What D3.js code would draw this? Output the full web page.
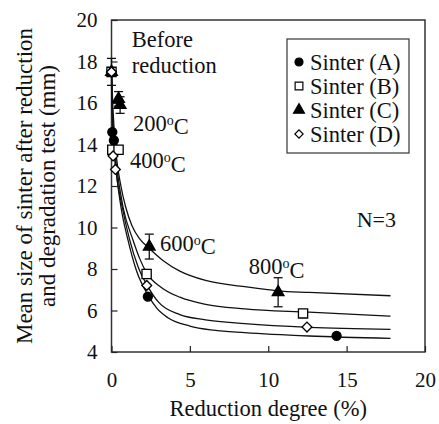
<!DOCTYPE html>
<html lang="en">
  <head>
    <meta charset="UTF-8" />
    <title>Mean size of sinter vs reduction degree</title>
    <script src="https://d3js.org/d3.v7.min.js"></script>
    <style>
      body { margin: 0; background: #fff; }
      text { font-family: "Liberation Serif", "Times New Roman", serif; fill: #111; }
    </style>
  </head>
  <body>
    <svg></svg>
    <script>
      var width = 439;
      var height = 424;
      var margin = { top: 20, right: 14, bottom: 72, left: 111.5 };

      // measured points (reduction degree %, mean size mm)
      var seriesNames = ["Sinter (A)", "Sinter (B)", "Sinter (C)", "Sinter (D)"];
      var degA = [0, 0.05, 0.15, 2.32, 14.36];
      var sizeA = [17.5, 14.6, 14.2, 6.67, 4.78];
      var degB = [0, 0.05, 0.45, 2.24, 12.22];
      var sizeB = [17.5, 13.75, 13.75, 7.76, 5.86];
      var degC = [0, 0.45, 0.55, 2.41, 10.63];
      var sizeC = [17.5, 16.2, 15.9, 9.08, 6.88];
      var errC = [0.65, 0.35, 0.4, 0.6, 0.7];
      var degD = [0, 0.1, 0.25, 2.25, 12.47];
      var sizeD = [17.5, 13.45, 12.8, 7.21, 5.2];

      // fitted curves
      var fitA = [[0,17.5],[0.05,15.6],[0.15,13.9],[0.3,12.7],[0.6,11.0],[1.05,9.4],[1.6,7.9],[2.32,6.75],[2.9,6.1],[3.6,5.65],[5,5.25],[6.5,5.05],[8.5,4.93],[12.6,4.77],[17.8,4.66]];
      var fitB = [[0,17.5],[0.05,15.8],[0.15,14.2],[0.35,12.8],[0.73,11.0],[1.37,9.4],[1.8,8.5],[2.25,7.8],[3.2,7.1],[4.36,6.64],[6,6.3],[8.5,6.08],[12.6,5.92],[17.8,5.73]];
      var fitC = [[0,17.5],[0.1,15.6],[0.3,13.5],[0.6,12.0],[0.9,11.0],[1.3,10.1],[1.8,9.45],[2.4,9.0],[3.3,8.4],[4.36,7.9],[6,7.45],[8.5,7.15],[10.6,6.95],[12.6,6.87],[17.8,6.71]];
      var fitD = [[0,17.5],[0.05,15.7],[0.15,14.0],[0.3,12.7],[0.68,11.0],[1.16,9.4],[1.7,8.1],[2.25,7.25],[3.0,6.4],[4.36,5.8],[6,5.55],[8.5,5.37],[12.6,5.19],[17.8,5.09]];

      var xTicks = [0, 5, 10, 15, 20];
      var yTicks = [4, 6, 8, 10, 12, 14, 16, 18, 20];

      var tempLabels = ["Before", "reduction", "200", "400", "600", "800"];
      var labelPos = [[1.29, 18.71], [1.29, 17.45], [1.37, 14.67], [1.18, 12.87], [3.09, 8.88], [8.76, 7.76]];

      var svg = d3.select("svg").attr("width", width).attr("height", height);

      var x = d3.scaleLinear().domain([0, 20]).range([margin.left, width - margin.right]);
      var y = d3.scaleLinear().domain([4, 20]).range([height - margin.bottom, margin.top]);

      // frame
      svg.append("rect")
        .attr("x", x(0)).attr("y", y(20))
        .attr("width", x(20) - x(0)).attr("height", y(4) - y(20))
        .style("fill", "none").style("stroke", "#333").style("stroke-width", 1.5);

      var xAxis = svg.append("g")
        .attr("transform", `translate(0, ${y(4)})`)
        .call(d3.axisBottom(x).tickValues(xTicks).tickSize(-6).tickPadding(20).tickSizeOuter(0));
      var yAxis = svg.append("g")
        .attr("transform", `translate(${x(0)}, 0)`)
        .call(d3.axisLeft(y).tickValues(yTicks).tickSize(-6).tickPadding(14).tickSizeOuter(0));
      svg.selectAll(".domain").remove();
      svg.selectAll(".tick line").style("stroke", "#222").style("stroke-width", 1.2);
      svg.selectAll(".tick text").style("font-size", "21px").style("font-family", "Liberation Serif").style("fill", "#111");
      xAxis.selectAll(".tick text").attr("dy", "0.71em");

      // axis titles
      svg.append("text")
        .attr("x", (x(0) + x(20)) / 2).attr("y", 416)
        .attr("text-anchor", "middle").style("font-size", "22.5px")
        .text("Reduction degree (%)");
      var yMid = (y(4) + y(20)) / 2;
      svg.append("text")
        .attr("transform", `translate(32, ${yMid}) rotate(-90)`)
        .attr("text-anchor", "middle").style("font-size", "23px")
        .text("Mean size of sinter after reduction");
      svg.append("text")
        .attr("transform", `translate(55, ${yMid}) rotate(-90)`)
        .attr("text-anchor", "middle").style("font-size", "23px")
        .text("and degradation test (mm)");

      // fitted curves
      var line = d3.line().x((d) => x(d[0])).y((d) => y(d[1])).curve(d3.curveMonotoneX);
      svg.append("g")
        .selectAll("path")
        .data([fitA, fitB, fitC, fitD])
        .join("path")
        .attr("d", line)
        .style("fill", "none").style("stroke", "#111").style("stroke-width", 1.3);

      // error bars for sinter C
      var cPts = d3.range(degC.length).map((i) => ({ x: degC[i], y: sizeC[i], e: errC[i] }));
      var eg = svg.append("g").style("stroke", "#111").style("stroke-width", 1.3);
      eg.selectAll("line.v").data(cPts).join("line").attr("class", "v")
        .attr("x1", (d) => x(d.x)).attr("x2", (d) => x(d.x))
        .attr("y1", (d) => y(d.y - d.e)).attr("y2", (d) => y(d.y + d.e));
      eg.selectAll("line.t").data(cPts).join("line").attr("class", "t")
        .attr("x1", (d) => x(d.x) - 4.5).attr("x2", (d) => x(d.x) + 4.5)
        .attr("y1", (d) => y(d.y + d.e)).attr("y2", (d) => y(d.y + d.e));
      eg.selectAll("line.b").data(cPts).join("line").attr("class", "b")
        .attr("x1", (d) => x(d.x) - 4.5).attr("x2", (d) => x(d.x) + 4.5)
        .attr("y1", (d) => y(d.y - d.e)).attr("y2", (d) => y(d.y - d.e));

      // marker styles
      var styles = [
        { type: d3.symbolCircle, size: 64, fill: "#000", rot: 0 },
        { type: d3.symbolSquare, size: 85, fill: "#fff", rot: 0 },
        { type: d3.symbolTriangle, size: 60, fill: "#000", rot: 0 },
        { type: d3.symbolSquare, size: 48, fill: "#fff", rot: 45 },
      ];
      var groups = [[degA, sizeA], [degB, sizeB], [degC, sizeC], [degD, sizeD]];

      groups.forEach(function (g, k) {
        var st = styles[k];
        var pts = d3.range(g[0].length).map((i) => [g[0][i], g[1][i]]);
        svg.append("g")
          .selectAll("path")
          .data(pts)
          .join("path")
          .attr("d", d3.symbol().type(st.type).size(st.size))
          .attr("transform", (d) => `translate(${x(d[0])}, ${y(d[1])}) rotate(${st.rot})`)
          .style("fill", st.fill).style("stroke", "#000").style("stroke-width", 1.3);
      });

      // temperature annotations
      svg.append("g")
        .selectAll("text")
        .data(tempLabels)
        .join("text")
        .attr("x", (d, i) => x(labelPos[i][0]))
        .attr("y", (d, i) => y(labelPos[i][1]))
        .style("font-size", "22.5px")
        .each(function (d, i) {
          var t = d3.select(this);
          if (i < 2) { t.text(d); return; }
          t.append("tspan").text(d);
          t.append("tspan").attr("dy", "-0.42em").style("font-size", "14px").text("o");
          t.append("tspan").attr("dy", "0.42em").text("C");
        });

      svg.append("text")
        .attr("x", x(15.64)).attr("y", y(10.04))
        .style("font-size", "22px").text("N=3");

      // legend
      var lg = svg.append("g").attr("transform", "translate(287, 39)");
      lg.append("rect").attr("width", 122).attr("height", 114)
        .style("fill", "#fff").style("stroke", "#444").style("stroke-width", 1.3);
      var legSizes = [50, 60, 52, 34];
      seriesNames.forEach(function (name, k) {
        var st = styles[k];
        var ry = 23 + k * 24;
        lg.append("path")
          .attr("d", d3.symbol().type(st.type).size(legSizes[k]))
          .attr("transform", `translate(12, ${ry}) rotate(${st.rot})`)
          .style("fill", st.fill).style("stroke", "#000").style("stroke-width", 1.2);
        lg.append("text").attr("x", 23).attr("y", ry).attr("dy", "0.35em")
          .style("font-size", "22.5px").text(name);
      });
    </script>
  </body>
</html>
